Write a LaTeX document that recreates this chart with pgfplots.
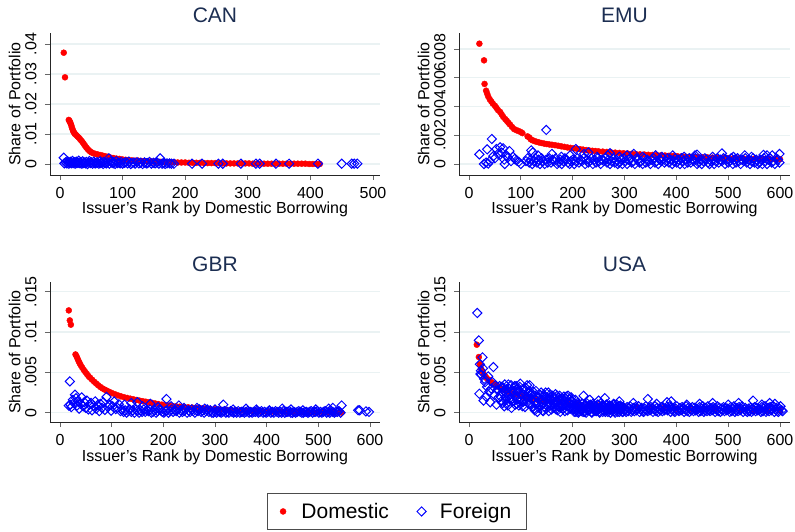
\documentclass[border=0pt]{standalone}
\usepackage{fontspec}
\setmainfont{Liberation Sans}
\usepackage{pgfplots}
\pgfplotsset{compat=1.18}
\definecolor{gridc}{RGB}{234,242,243}
\definecolor{titc}{RGB}{28,46,82}
\definecolor{dred}{RGB}{255,0,0}
\definecolor{dblue}{RGB}{0,0,255}
\pgfplotsset{
 panel/.style={
  scale only axis, enlargelimits=false, scaled ticks=false,
  axis lines=left, axis line style={-, black!85, line width=0.8pt},
  tick align=outside, major tick length=5pt, tick style={black!60, line width=0.8pt},
  ymajorgrids, grid style={gridc, line width=1.1pt},
  /pgf/number format/assume math mode=true,
  tick label style={font=\fontsize{16}{19}\selectfont, inner sep=0pt},
  xticklabel style={anchor=north},
  yticklabel style={rotate=90, anchor=south},
  xticklabel shift=7pt, yticklabel shift=8.25pt,
  label style={font=\fontsize{16}{19}\selectfont, inner sep=0pt},
  title style={font=\fontsize{21}{25}\selectfont, color=titc, at={(axis description cs:0.5,1)}, anchor=center, yshift=11.5pt},
  xlabel={Issuer’s Rank by Domestic Borrowing},
  ylabel={Share of Portfolio},
  ylabel style={at={(axis description cs:-0.107,0.5)}, anchor=center},
 },
 dom/.style={only marks, mark=*, mark size=3pt, color=dred, mark options={fill=dred, draw=dred, line width=0.4pt}},
 frn/.style={only marks, mark=square, mark size=3.25pt, color=dblue, mark options={rotate=45, line width=1pt, fill=none, draw=dblue}},
}
\begin{document}
\begin{tikzpicture}[x=1pt,y=1pt]
\path[use as bounding box] (0,0) rectangle (795,531);

% ---------------- CAN ----------------
\begin{axis}[panel, at={(50pt,356pt)}, anchor=south west, width=330pt, height=142pt,
 xmin=-15.97, xmax=511.2, ymin=-0.003667, ymax=0.04367,
 xtick={0,100,200,300,400,500}, xticklabels={0,100,200,300,400,500},
 ytick={0,0.01,0.02,0.03,0.04}, yticklabels={0,.01,.02,.03,.04},
 title={CAN}, xlabel style={at={(axis description cs:0.5,0)}, anchor=center, yshift=-34pt}]
\addplot[dom] coordinates {(6,.0371)(8,.0289)(14,.0147)(15,.0144)(16,.0140)(17,.0135)(18,.0129)(19,.0122)(20,.0116)(21,.0110)(22,.0106)(23,.0103)(24,.0100)(26,.0096)(28,.0092)(30,.0088)(32,.0083)(34,.0078)(36,.0073)(38,.0067)(40,.0061)(42,.0055)(44,.0050)(46,.0046)(48,.0042)(50,.0039)(53,.0036)(56,.0034)(60,.0032)(64,.0030)(68,.0028)(72,.0026)(76,.0024)(80,.0022)(85,.0020)(90,.0018)(95,.0017)(100,.0015)(105,.0014)(110,.0013)(115,.0012)(120,.0011)(125,.0011)(130,.0010)(135,.0010)(140,.0009)(145,.0009)(150,.0008)(155,.0008)(160,.0007)(165,.0007)(170,.0006)(176,.0006)(182,.0006)(188,.0005)(194,.0005)(200,.0005)(206,.0004)(212,.0004)(218,.0004)(224,.0004)(230,.0003)(236,.0003)(242,.0003)(248,.0003)(254,.0003)(260,.0002)(266,.0002)(272,.0002)(278,.0002)(284,.0002)(290,.0002)(296,.0002)(302,.0002)(308,.0001)(314,.0001)(320,.0001)(326,.0001)(332,.0001)(338,.0001)(344,.0001)(350,.0001)(356,.0001)(362,.0001)(368,.0001)(374,.0001)(380,.0001)(386,.0001)(392,.0001)(398,0)(404,0)(410,0)(415,0)};
\addplot[frn] coordinates {(6,.0021)(7,.0002)(9,.0006)(11,.0002)(12,.0009)(14,.0001)(15,.0005)(17,.0007)(18,.0002)(20,.0010)(21,.0003)(23,.0006)(24,.0001)(26,.0008)(27,.0003)(29,.0004)(30,.0011)(32,.0002)(33,.0006)(35,.0001)(36,.0009)(38,.0003)(39,.0005)(41,.0002)(42,.0007)(44,0)(46,.0004)(47,.0010)(49,.0003)(50,.0006)(52,.0001)(54,.0008)(55,.0003)(57,.0002)(59,.0006)(60,.0004)(62,.0001)(64,.0009)(65,.0003)(67,.0005)(69,0)(70,.0007)(72,.0003)(74,.0002)(76,.0006)(78,.0019)(79,.0001)(81,.0008)(83,.0004)(85,.0002)(86,.0006)(88,0)(90,.0010)(92,.0003)(94,.0005)(96,.0002)(98,.0007)(100,.0001)(103,.0004)(105,.0006)(108,.0002)(110,.0008)(113,0)(115,.0003)(118,.0005)(120,.0001)(123,.0006)(126,.0002)(129,.0004)(132,0)(135,.0005)(138,.0002)(140,.0003)(143,.0007)(146,.0001)(149,.0004)(152,.0002)(155,.0005)(158,.0001)(160,.0019)(163,.0001)(165,.0003)(168,0)(171,.0002)(175,.0002)(178,.0001)(182,.0001)(211,.0001)(227,.0001)(253,.0001)(260,.0001)(289,.0001)(313,.0001)(319,.0001)(345,.0001)(366,.0001)(412,.0001)(450,.0001)(466,.0001)(470,.0001)(475,.0001)};
\end{axis}

% ---------------- EMU ----------------
\begin{axis}[panel, at={(459pt,356pt)}, anchor=south west, width=331pt, height=142pt,
 xmin=-19.3, xmax=619.3, ymin=-0.000765, ymax=0.009113,
 xtick={0,100,200,300,400,500,600}, xticklabels={0,100,200,300,400,500,600},
 ytick={0,0.002,0.004,0.006,0.008}, yticklabels={0,.002,.004,.006,.008},
 title={EMU}, xlabel style={at={(axis description cs:0.5,0)}, anchor=center, yshift=-34pt}]
\addplot[dom] coordinates {(20,.00837)(29,.00721)(30,.00557)(33,.00510)(35,.00490)(37,.00470)(40,.00450)(43,.00435)(46,.00420)(50,.00405)(53,.00390)(56,.00375)(60,.00362)(63,.00345)(66,.00328)(70,.00312)(73,.00300)(76,.00287)(79,.00275)(83,.00258)(87,.00243)(91,.00236)(95,.00230)(99,.00224)(103,.00215)(113,.00192)(116,.00185)(119,.00172)(122,.00166)(126,.00160)(130,.00155)(135,.00150)(140,.00146)(145,.00142)(150,.00139)(155,.00136)(160,.00134)(166,.00131)(172,.00127)(178,.00123)(184,.00119)(190,.00115)(196,.00112)(202,.00109)(208,.00106)(214,.00103)(220,.00100)(226,.00097)(232,.00094)(238,.00092)(244,.00090)(250,.00088)(258,.00086)(266,.00084)(274,.00081)(282,.00079)(290,.00077)(298,.00075)(306,.00073)(314,.00071)(322,.00069)(330,.00067)(338,.00066)(346,.00064)(354,.00063)(362,.00062)(370,.00060)(378,.00059)(386,.00057)(394,.00056)(402,.00054)(410,.00053)(418,.00051)(426,.00050)(434,.00049)(442,.00048)(450,.00047)(460,.00046)(470,.00044)(480,.00043)(490,.00042)(500,.00041)(510,.00040)(520,.00039)(530,.00038)(540,.00037)(550,.00036)(560,.00035)(570,.00034)(580,.00034)(590,.00033)(600,.00033)};
\addplot[frn] coordinates {(20,.00067)(29,0)(33,.00010)(35,.00102)(37,.00003)(40,.00020)(44,.00174)(47,.00055)(50,.00040)(53,.00104)(56,.00070)(60,.00116)(63,.00080)(66,.00109)(68,.00030)(69,0)(72,.00060)(75,.00045)(78,.00090)(81,.00020)(85,.00050)(88,.00035)(92,.00025)(96,.00015)(100,0)
(110,.0002)(113,.0004)(116,.0001)(119,.0003)(122,0)(125,.0002)(128,.0004)(131,.0001)(134,.0003)(137,0)(140,.0004)(143,.0002)(146,0)(149,.0003)(152,.0001)(155,.0004)(158,.0001)(161,.0003)(164,.0002)(167,.0004)(170,0)(173,.0001)(176,.0003)(179,0)(182,.0002)(185,.0004)(188,.0003)(191,.0001)(194,0)(197,.0002)
(200,.0003)(203,0)(206,.0002)(209,.0004)(212,.0001)(215,.0003)(218,.0002)(221,.0004)(224,0)(227,.0003)(230,.0001)(233,.0002)(236,.0004)(239,0)(242,.0003)(245,.0001)(248,.0004)(251,.0002)(254,0)(257,.0003)(260,.0002)(263,.0004)(266,.0001)(269,.0003)(272,0)(275,.0002)(278,.0004)(281,.0001)(284,.0003)(287,0)
(290,.0001)(293,.0003)(296,0)(299,.0004)(302,.0002)(305,0)(308,.0003)(311,.0004)(314,.0001)(317,.0002)(320,0)(323,.0004)(326,.0003)(329,.0001)(332,.0002)(335,0)(338,.0004)(341,.0001)(344,.0003)(347,.0002)(350,0)(353,.0003)(356,.0004)(359,.0001)(362,.0002)(365,0)(368,.0003)(371,.0002)(374,.0004)(377,.0001)
(380,.0002)(383,.0004)(386,.0001)(389,.0003)(392,0)(395,.0002)(398,.0004)(401,.0001)(404,.0003)(407,0)(410,.0004)(413,.0002)(416,0)(419,.0003)(422,.0001)(425,.0004)(428,.0001)(431,.0003)(434,.0002)(437,.0004)(440,0)(443,.0001)(446,.0003)(449,0)(452,.0002)(455,.0004)(458,.0003)(461,.0001)(464,0)(467,.0002)
(470,.0003)(473,0)(476,.0002)(479,.0004)(482,.0001)(485,.0003)(488,.0002)(491,.0004)(494,0)(497,.0003)(500,.0001)(503,.0002)(506,.0004)(509,0)(512,.0003)(515,.0001)(518,.0004)(521,.0002)(524,0)(527,.0003)(530,.0002)(533,.0004)(536,.0001)(539,.0003)(542,0)(545,.0002)(548,.0004)(551,.0001)(554,.0003)(557,0)
(560,.0001)(563,.0003)(566,0)(569,.0004)(572,.0002)(575,0)(578,.0003)(581,.0004)(584,.0001)(587,.0002)(590,0)(593,.0004)(596,.0003)(599,.0001)
(120,.00095)(123,.00080)(133,.0006)(149,.00237)(160,.0007)(178,.0005)(195,.0006)(206,.00104)(222,.0007)(230,.0008)(247,.0005)(268,.0006)(272,.00075)(290,.0005)(305,.0006)(318,.0007)(335,.0005)(360,.0006)(372,.0005)(393,.0006)(415,.0005)(436,.0006)(440,.00065)(470,.0005)(488,.00074)(510,.0005)(532,.0006)(545,.0005)(568,.00063)(575,.0006)(585,.0006)(599,.0007)};
\end{axis}

% ---------------- GBR ----------------
\begin{axis}[panel, at={(50pt,109pt)}, anchor=south west, width=330pt, height=140pt,
 xmin=-19.35, xmax=619.3, ymin=-0.00115, ymax=0.0162,
 xtick={0,100,200,300,400,500,600}, xticklabels={0,100,200,300,400,500,600},
 ytick={0,0.005,0.01,0.015}, yticklabels={0,.005,.01,.015},
 title={GBR}, xlabel style={at={(axis description cs:0.5,0)}, anchor=center, yshift=-35.5pt},
 legend columns=2, legend cell align=left,
 legend style={at={(axis description cs:1.0506,-0.639)}, anchor=center, draw=black!70, line width=0.8pt, fill=white,
   font=\fontsize{21}{25}\selectfont, inner xsep=12pt, inner ysep=7pt, nodes={inner sep=3pt},
   /tikz/every even column/.append style={column sep=25pt}},
 legend image code/.code={\draw[#1] plot coordinates {(0pt,0pt)}; \path (-3.5pt,0pt) (15pt,0pt);}]
\addplot[dom] coordinates {(17,.01268)(19,.01144)(21,.01091)(30,.00722)(32,.00700)(34,.00670)(36,.00640)(38,.00615)(40,.00590)(43,.00560)(46,.00530)(49,.00505)(52,.00480)(55,.00455)(58,.00435)(62,.00410)(66,.00385)(70,.00362)(74,.00340)(78,.00320)(82,.00302)(86,.00288)(90,.00275)(95,.00260)(100,.00245)(106,.00230)(112,.00215)(118,.00203)(124,.00192)(130,.00183)(136,.00174)(142,.00166)(148,.00158)(154,.00150)(160,.00143)(166,.00136)(172,.00129)(178,.00122)(184,.00115)(190,.00108)(197,.00100)(204,.00094)(211,.00088)(218,.00083)(225,.00079)(232,.00075)(240,.00071)(248,.00067)(256,.00063)(264,.00059)(272,.00055)(280,.00051)(290,.00047)(300,.00043)(310,.00040)(320,.00037)(330,.00034)(340,.00031)(350,.00028)(360,.00026)(370,.00024)(380,.00022)(390,.00020)(400,.00018)(410,.00016)(420,.00015)(430,.00013)(440,.00012)(450,.00011)(460,.00010)(470,.00009)(480,.00008)(490,.00007)(500,.00006)(510,.00005)(520,.00004)(530,.00003)(540,.00002)(545,.00002)};
\addlegendentry{Domestic}
\addplot[frn] coordinates {(17,.00087)(19,.00388)(20,.00100)(22,.00070)(25,.00160)(27,.00120)(29,.00223)(31,.00180)(33,.00090)(35,.00140)(37,.00050)(40,.00110)(42,.00190)(45,.00080)(47,.00130)(50,.00060)(52,.00150)(55,.00040)(57,.00100)(60,.00120)(62,.00030)(65,.00085)(68,.00140)(70,.00050)(73,.00095)(76,.00020)(78,.00110)(81,.00060)(84,.00130)(87,.00035)(90,.00195)(93,.00070)(96,.00100)(99,.00025)(102,.00080)(105,.00140)(108,.00045)(111,.00060)(114,.00105)
(117,.0002)(120,.0004)(123,.0001)(126,.0003)(129,0)(132,.0002)(135,.0004)(138,.0001)(141,.0003)(144,0)(147,.0004)(150,.0002)(153,0)(156,.0003)(159,.0001)(162,.0004)(165,.0001)(168,.0003)(171,.0002)(174,.0004)(177,0)(180,.0001)(183,.0003)(186,0)(189,.0002)(192,.0004)(195,.0003)(198,.0001)(201,0)(204,.0002)
(207,.0003)(210,0)(213,.0002)(216,.0004)(219,.0001)(222,.0003)(225,.0002)(228,.0004)(231,0)(234,.0003)(237,.0001)(240,.0002)(243,.0004)(246,0)(249,.0003)(252,.0001)(255,.0004)(258,.0002)(261,0)(264,.0003)(267,.0002)(270,.0004)(273,.0001)(276,.0003)(279,0)(282,.0002)(285,.0004)(288,.0001)(291,.0003)(294,0)
(297,0)(300,.0001)(303,0)(306,.0002)(309,.0001)(312,0)(315,.0001)(318,.0002)(321,0)(324,.0001)(327,0)(330,.0002)(333,.0001)(336,0)(339,.0001)(342,0)(345,.0002)(348,0)(351,.0001)(354,.0001)(357,0)(360,.0001)(363,.0002)(366,0)(369,.0001)(372,0)(375,.0001)(378,.0001)(381,.0002)(384,0)
(387,.0001)(390,.0002)(393,0)(396,.0001)(399,0)(402,.0001)(405,.0002)(408,0)(411,.0001)(414,0)(417,.0002)(420,.0001)(423,0)(426,.0001)(429,0)(432,.0002)(435,0)(438,.0001)(441,.0001)(444,.0002)(447,0)(450,0)(453,.0001)(456,0)(459,.0001)(462,.0002)(465,.0001)(468,0)(471,0)(474,.0001)
(477,.0001)(480,0)(483,.0001)(486,.0002)(489,0)(492,.0001)(495,.0001)(498,.0002)(501,0)(504,.0001)(507,0)(510,.0001)(513,.0002)(516,0)(519,.0001)(522,0)(525,.0002)(528,.0001)(531,0)(534,.0001)(537,.0001)(540,.0002)(543,0)
(125,.0010)(138,.0012)(150,.0013)(160,.0008)(175,.0011)(190,.0007)(206,.0017)(215,.0008)(230,.0009)(240,.0006)(265,.0006)(280,.0005)(300,.0004)(316,.0010)(335,.0004)(360,.0005)(380,.0004)(405,.0003)(430,.0005)(447,.0004)(470,.0003)(495,.0004)(520,.0005)(528,.0006)(545,.0009)(577,.0003)(580,.0003)(592,.00016)(598,.0001)};
\addlegendentry{Foreign}
\end{axis}

% ---------------- USA ----------------
\begin{axis}[panel, at={(459pt,109pt)}, anchor=south west, width=331pt, height=140pt,
 xmin=-19.3, xmax=619.3, ymin=-0.00115, ymax=0.0162,
 xtick={0,100,200,300,400,500,600}, xticklabels={0,100,200,300,400,500,600},
 ytick={0,0.005,0.01,0.015}, yticklabels={0,.005,.01,.015},
 title={USA}, xlabel style={at={(axis description cs:0.5,0)}, anchor=center, yshift=-35.5pt}]
\addplot[dom] coordinates {(15,.00843)(19,.00690)(21,.00600)(23,.00550)(25,.00520)(28,.00480)(31,.00455)(34,.00430)(38,.00410)(42,.00385)(46,.00365)(50,.00350)(55,.00330)(60,.00310)(65,.00290)(70,.00275)(76,.00260)(82,.00245)(88,.00235)(94,.00225)(100,.00210)(106,.00195)(112,.00185)(120,.00175)(130,.00165)(140,.00158)(147,.00152)(160,.00140)(175,.00128)(190,.00118)(210,.00105)(230,.00095)(250,.00088)(275,.00080)(300,.00072)(325,.00066)(350,.00060)(375,.00055)(400,.00050)(425,.00046)(450,.00042)(475,.00039)(500,.00036)(525,.00033)(550,.00030)(575,.00028)(600,.00026)};
\addplot[frn] coordinates {(16,.01236)(19,.00896)(20,.00235)(21,.00600)(22,.00480)(23,.00520)(24,.00470)(26,.00686)(27,.00550)(28,.00150)(29,.00420)(31,.00380)(33,.00200)(35,.00320)(37,.00450)(39,.00260)(41,.00130)(43,.00300)(45,.00380)(47,.00566)(49,.00220)(51,.00340)(53,.00100)(55,.00280)(57,.00190)(59,.00330)
(61,.0020)(63,.0032)(65,.0012)(67,.0027)(69,.0035)(71,.0016)(73,.0024)(75,.0009)(77,.0030)(79,.0018)(81,.0034)(83,.0014)(85,.0026)(87,.0021)(89,.0010)(91,.0033)(93,.0017)(95,.0028)(97,.0013)(99,.0036)(101,.0022)(103,.0008)(105,.0029)(107,.0015)(109,.0031)(111,.0019)(113,.0025)(115,.0011)(117,.0034)(119,.0023)
(62,.0014)(64,.0025)(66,.0031)(68,.0008)(70,.0019)(72,.0029)(74,.0012)(76,.0035)(78,.0017)(80,.0023)(82,.0006)(84,.0028)(86,.0015)(88,.0033)(90,.0020)(92,.0011)(94,.0026)(96,.0009)(98,.0032)(100,.0018)(102,.0024)(104,.0013)(106,.0030)(108,.0007)(110,.0021)(112,.0034)(114,.0016)(116,.0027)(118,.0010)(120,.0022)
(121,.0024)(123,.0008)(125,.0018)(127,.0003)(129,.0027)(131,.0012)(133,.0020)(135,.0006)(137,.0015)(139,.0025)(141,.0010)(143,.0002)(145,.0022)(147,.0014)(149,.0005)(151,.0019)(153,.0025)(155,.0009)(157,.0016)(159,.0004)(161,.0021)(163,.0011)(165,.0007)(167,.0023)(169,.0013)(171,.0003)(173,.0018)(175,.0021)(177,.0006)(179,.0015)(181,.0010)(183,.0020)(185,.0002)(187,.0017)(189,.0008)(191,.0021)(193,.0012)(195,.0005)(197,.0019)(199,.0014)
(122,.0016)(124,.0026)(126,.0005)(128,.0021)(130,.0011)(132,.0001)(134,.0018)(136,.0023)(138,.0009)(140,.0014)(142,.0003)(144,.0020)(146,.0007)(148,.0025)(150,.0012)(152,.0017)(154,.0002)(156,.0022)(158,.0010)(160,.0015)(162,.0006)(164,.0019)(166,.0013)(168,.0004)(170,.0021)(172,.0008)(174,.0016)(176,.0001)(178,.0011)(180,.0018)(182,.0005)(184,.0014)(186,.0009)(188,.0020)(190,.0003)(192,.0012)(194,.0017)(196,.0007)(198,.0015)(200,.0010)
(201,.0006)(203,.0001)(205,.0010)(207,.0004)(209,.0012)(211,0)(213,.0008)(215,.0005)(217,.0002)(219,.0011)(221,.0006)(223,.0001)(225,.0009)(227,.0012)(229,.0003)(231,.0007)(233,.0004)(235,.0009)(237,0)(239,.0011)(241,.0006)(243,.0002)(245,.0008)(247,.0004)(249,.0010)(251,.0005)(253,.0001)(255,.0012)(257,.0007)(259,.0003)(261,.0008)(263,.0001)(265,.0010)(267,.0006)(269,.0004)(271,.0009)(273,0)(275,.0008)(277,.0004)(279,.0011)(281,.0002)(283,.0006)(285,.0010)(287,.0001)(289,.0005)(291,.0008)(293,.0003)(295,.0007)(297,.0001)(299,.0006)
(202,.0004)(204,.0008)(206,.0001)(208,.0006)(210,.0010)(212,.0002)(214,.0007)(216,.0004)(218,.0011)(220,.0001)(222,.0006)(224,.0009)(226,0)(228,.0005)(230,.0008)(232,.0003)(234,.0010)(236,.0001)(238,.0006)(240,.0008)(242,.0004)(244,.0007)(246,.0002)(248,.0010)(250,.0004)(252,0)(254,.0006)(256,.0009)(258,.0001)(260,.0008)(262,.0005)(264,.0003)(266,.0010)(268,.0001)(270,.0007)(272,.0004)(274,.0008)(276,.0002)(278,.0006)(280,.0010)(282,0)(284,.0006)(286,.0004)(288,.0008)(290,.0001)(292,.0009)(294,.0005)(296,.0001)(298,.0007)(300,.0003)
(205,.0016)(221,.0021)(233,.0016)(250,.0015)(262,.0018)(290,.0014)
(301,.0004)(303,.0001)(305,.0007)(307,.0002)(309,.0005)(311,.0008)(313,.0001)(315,.0003)(317,.0006)(319,.0002)(321,.0007)(323,.0003)(325,.0005)(327,.0008)(329,.0001)(331,.0004)(333,.0006)(335,.0002)(337,.0001)(339,.0005)(341,.0008)(343,.0003)(345,.0002)(347,.0006)(349,.0003)(351,.0007)(353,.0005)(355,.0001)(357,.0004)(359,.0008)(361,.0002)(363,.0006)(365,.0001)(367,.0005)(369,.0003)(371,.0007)(373,.0002)(375,.0006)(377,.0003)(379,.0005)
(381,.0007)(383,.0003)(385,.0005)(387,.0008)(389,.0001)(391,.0004)(393,.0006)(395,.0002)(397,.0001)(399,.0005)(401,.0008)(403,.0003)(405,.0002)(407,.0006)(409,.0003)(411,.0007)(413,.0005)(415,.0001)(417,.0004)(419,.0008)(421,.0002)(423,.0006)(425,.0001)(427,.0005)(429,.0003)(431,.0007)(433,.0002)(435,.0006)(437,.0003)(439,.0005)(441,.0004)(443,.0001)(445,.0007)(447,.0002)(449,.0005)(451,.0008)(453,.0001)(455,.0003)(457,.0006)(459,.0002)
(461,.0008)(463,.0003)(465,.0002)(467,.0006)(469,.0003)(471,.0007)(473,.0005)(475,.0001)(477,.0004)(479,.0008)(481,.0002)(483,.0006)(485,.0001)(487,.0005)(489,.0003)(491,.0007)(493,.0002)(495,.0006)(497,.0003)(499,.0005)(501,.0004)(503,.0001)(505,.0007)(507,.0002)(509,.0005)(511,.0008)(513,.0001)(515,.0003)(517,.0006)(519,.0002)(521,.0007)(523,.0003)(525,.0005)(527,.0008)(529,.0001)(531,.0004)(533,.0006)(535,.0002)(537,.0001)(539,.0005)
(541,.0002)(543,.0006)(545,.0001)(547,.0005)(549,.0003)(551,.0007)(553,.0002)(555,.0006)(557,.0003)(559,.0005)(561,.0004)(563,.0001)(565,.0007)(567,.0002)(569,.0005)(571,.0008)(573,.0001)(575,.0003)(577,.0006)(579,.0002)(581,.0007)(583,.0003)(585,.0005)(587,.0008)(589,.0001)(591,.0004)(593,.0006)(595,.0002)(597,.0001)(599,.0005)(601,.0008)(603,.0003)(605,.0002)
(317,.0012)(345,.0017)(362,.0011)(382,.0013)(390,.0014)(420,.0010)(445,.0011)(470,.0012)(500,.0010)(520,.0012)(548,.0015)(565,.0010)(580,.0012)(590,.0011)};
\end{axis}
\end{tikzpicture}
\end{document}
